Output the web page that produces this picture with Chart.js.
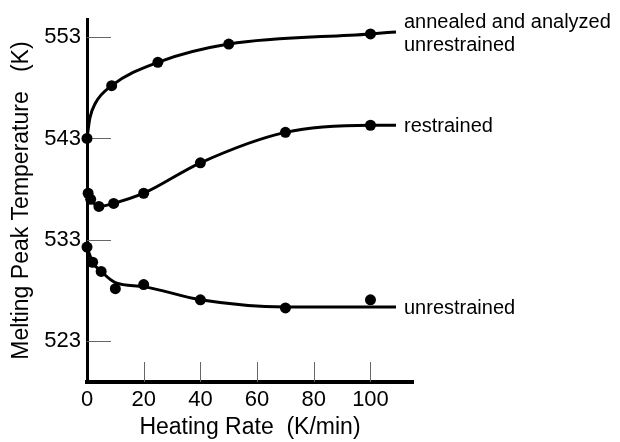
<!DOCTYPE html>
<html>
<head>
<meta charset="utf-8">
<script src="https://cdn.jsdelivr.net/npm/chart.js@4/dist/chart.umd.min.js"></script>
<style>
  html, body { margin: 0; padding: 0; background: #fff; }
</style>
</head>
<body>
<canvas id="myChart" width="620" height="442"></canvas>
<script>
const xTicks = [0, 20, 40, 60, 80, 100];
const yTicks = [523, 533, 543, 553];

// measured points
const annealedX = [0, 8.7, 25, 50, 100];
const annealedY = [543, 548.2, 550.5, 552.3, 553.3];
const restrainedX = [0.4, 1.3, 4.2, 9.4, 20, 40, 70, 100];
const restrainedY = [537.6, 537.0, 536.3, 536.6, 537.6, 540.6, 543.6, 544.3];
const unrestrainedX = [0, 2, 5, 10, 20, 40, 70, 100];
const unrestrainedY = [532.3, 530.8, 529.9, 528.2, 528.6, 527.1, 526.3, 527.1];

// hand-drawn curves through the points
const annealedCurveX = [0, 1, 3, 8.7, 25, 50, 100, 109];
const annealedCurveY = [543, 545, 546.5, 548.2, 550.5, 552.3, 553.3, 553.5];
const restrainedCurveX = [0.4, 1.3, 4.2, 9.4, 20, 40, 70, 100, 109];
const restrainedCurveY = [537.6, 537.0, 536.3, 536.6, 537.6, 540.6, 543.6, 544.3, 544.3];
const unrestrainedCurveX = [0, 2, 5, 10, 20, 40, 70, 100, 109];
const unrestrainedCurveY = [532.3, 530.8, 529.9, 528.8, 528.4, 527.1, 526.4, 526.4, 526.4];

// curve names, each line anchored to a curve end
const labelText = ['annealed and analyzed', 'unrestrained', 'restrained', 'unrestrained'];
const labelCurve = [0, 0, 1, 2];
const labelShift = [-11, 12, 0, 0];

const FONT = '"Liberation Sans", Arial, sans-serif';

const pts = (xs, ys) => xs.map((x, i) => ({x: x, y: ys[i]}));

const curve = (xs, ys) => ({
  data: pts(xs, ys),
  showLine: true,
  borderColor: '#000',
  borderWidth: 3,
  pointRadius: 0,
  cubicInterpolationMode: 'monotone',
  clip: false
});
const dots = (xs, ys) => ({
  data: pts(xs, ys),
  showLine: false,
  pointRadius: 5.5,
  pointBackgroundColor: '#000',
  pointBorderWidth: 0,
  clip: false
});

const curveEnds = [
  [annealedCurveX, annealedCurveY],
  [restrainedCurveX, restrainedCurveY],
  [unrestrainedCurveX, unrestrainedCurveY]
];

const styling = {
  id: 'styling',
  beforeDatasetsDraw(chart) {
    // tick marks pointing into the plot
    const {ctx, chartArea, scales: {x, y}} = chart;
    ctx.save();
    ctx.strokeStyle = '#666';
    ctx.lineWidth = 1;
    ctx.beginPath();
    yTicks.forEach(v => {
      const py = Math.round(y.getPixelForValue(v)) + 0.5;
      ctx.moveTo(chartArea.left, py);
      ctx.lineTo(chartArea.left + 24, py);
    });
    xTicks.slice(1).forEach(v => {
      const px = Math.round(x.getPixelForValue(v)) + 0.5;
      ctx.moveTo(px, chartArea.bottom);
      ctx.lineTo(px, chartArea.bottom - 20);
    });
    ctx.stroke();
    ctx.restore();
  },
  afterDraw(chart) {
    const {ctx, scales: {x, y}} = chart;
    ctx.save();
    ctx.fillStyle = '#000';
    ctx.font = '20px ' + FONT;
    ctx.textAlign = 'left';
    ctx.textBaseline = 'alphabetic';
    labelText.forEach((t, i) => {
      const [xs, ys] = curveEnds[labelCurve[i]];
      const px = Math.round(x.getPixelForValue(xs[xs.length - 1])) + 8;
      const py = Math.round(y.getPixelForValue(ys[ys.length - 1])) + labelShift[i] + 7;
      ctx.fillText(t, px, py);
    });
    ctx.restore();
  }
};

new Chart(document.getElementById('myChart'), {
  type: 'scatter',
  data: {
    datasets: [
      curve(annealedCurveX, annealedCurveY),
      curve(restrainedCurveX, restrainedCurveY),
      curve(unrestrainedCurveX, unrestrainedCurveY),
      dots(annealedX, annealedY),
      dots(restrainedX, restrainedY),
      dots(unrestrainedX, unrestrainedY)
    ]
  },
  options: {
    responsive: false,
    animation: false,
    layout: { padding: { left: 0, top: 14, right: 207, bottom: 0 } },
    plugins: {
      legend: { display: false },
      tooltip: { enabled: false }
    },
    scales: {
      x: {
        type: 'linear',
        min: 0,
        max: 115,
        afterBuildTicks: s => { s.ticks = xTicks.map(v => ({value: v})); },
        afterFit: s => { s.height = 60; },
        grid: { drawOnChartArea: false, drawTicks: false },
        border: { color: '#000', width: 4 },
        ticks: { color: '#000', font: { size: 22, family: FONT }, padding: 5, maxRotation: 0, autoSkip: false },
        title: {
          display: true,
          text: 'Heating Rate  (K/min)',
          color: '#000',
          font: { size: 23, family: FONT },
          padding: { top: 0, bottom: 1 }
        }
      },
      y: {
        type: 'linear',
        min: 519,
        max: 554.75,
        afterBuildTicks: s => { s.ticks = yTicks.map(v => ({value: v})); },
        afterFit: s => { s.width = 87; },
        grid: { drawOnChartArea: false, drawTicks: false },
        border: { color: '#000', width: 3 },
        ticks: { color: '#000', font: { size: 22, family: FONT }, padding: 6 },
        title: {
          display: true,
          text: 'Melting Peak Temperature   (K)',
          color: '#000',
          font: { size: 23, family: FONT },
          padding: { top: 8, bottom: 0 }
        }
      }
    }
  },
  plugins: [styling]
});
</script>
</body>
</html>
